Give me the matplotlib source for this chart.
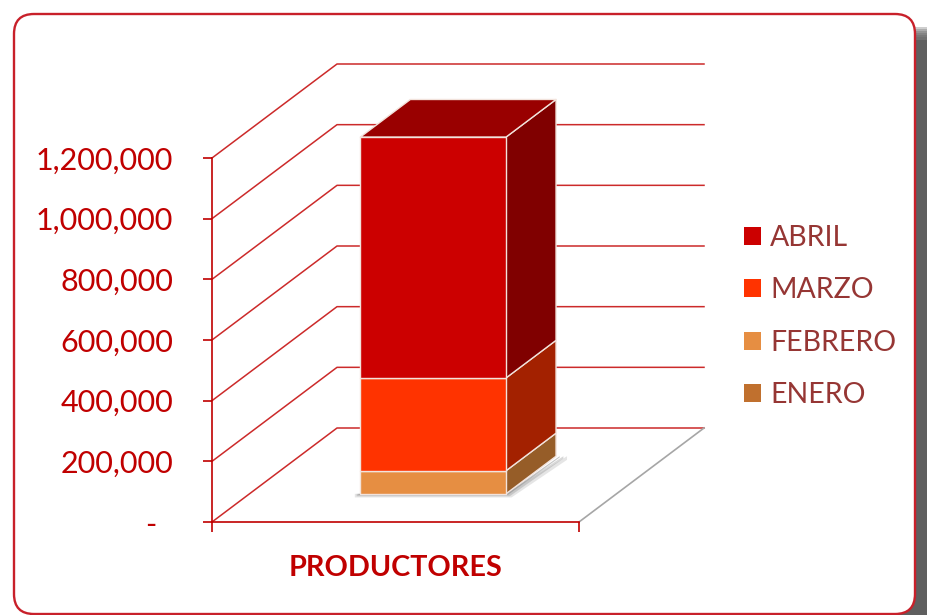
import matplotlib
matplotlib.use("Agg")
import matplotlib.pyplot as plt
from matplotlib.patches import FancyBboxPatch, Patch

plt.rcParams['font.family'] = ['Lato', 'DejaVu Sans']

# stacked values
meses = ['ENERO', 'FEBRERO', 'MARZO', 'ABRIL']
valores = [0, 76000, 306000, 794000]
categoria = 'PRODUCTORES'
y_ticks = [0, 200000, 400000, 600000, 800000, 1000000, 1200000]

frente = ['#C0702E', '#E68E42', '#FF3300', '#CC0000']
lado = ['#965D28', '#965D28', '#A32100', '#800000']
tapa = '#990000'
rojo = '#C00000'
texto_leyenda = '#963634'

W, H = 928, 615
fig = plt.figure(figsize=(W / 100, H / 100), dpi=100, facecolor='white')

# background panel in pixel coordinates
bg = fig.add_axes([0, 0, 1, 1], zorder=0)
bg.set_xlim(0, W)
bg.set_ylim(H, 0)
bg.axis('off')
for i in range(6):
    bg.add_patch(FancyBboxPatch((30, 27 + 2 * i), 930, 640, boxstyle='round,pad=0,rounding_size=18',
                                fc='#5F5F5F', ec='none', alpha=0.3))
bg.add_patch(FancyBboxPatch((30, 40), 930, 640, boxstyle='round,pad=0,rounding_size=18',
                            fc='#5F5F5F', ec='none'))
bg.add_patch(FancyBboxPatch((14, 14), 901, 600, boxstyle='round,pad=0,rounding_size=20',
                            fc='white', ec='#C8202A', lw=1.7))

# main axes: front plane of the 3D box
x0, x1, y_top, y_zero = 212, 579, 158, 522
ax = fig.add_axes([x0 / W, 1 - y_zero / H, (x1 - x0) / W, (y_zero - y_top) / H], zorder=1)
ax.patch.set_alpha(0)
ax.set_xlim(0, 1)
ax.set_ylim(0, 1200000)
for s in ['top', 'right']:
    ax.spines[s].set_visible(False)
for s in ['left', 'bottom']:
    ax.spines[s].set_color(rojo)
    ax.spines[s].set_linewidth(1.2)

DX = 125 / (x1 - x0)
DV = 94 / (y_zero - y_top) * 1200000


def oblicuo(x, v, d):
    return x + d * DX, v + d * DV


# back wall and side gridlines
for t in y_ticks:
    a = oblicuo(0, t, 0)
    b = oblicuo(0, t, 1)
    c = oblicuo(1, t, 1)
    ax.plot([a[0], b[0], c[0]], [a[1], b[1], c[1]], color='#CC2A2A', lw=1.1, clip_on=False, zorder=1)
a = oblicuo(1, 0, 0)
b = oblicuo(1, 0, 1)
ax.plot([a[0], b[0]], [a[1], b[1]], color='#A6A6A6', lw=1.2, clip_on=False, zorder=1)

# bar
bar_x = 0.302
bar_w = 0.397
d0, d1 = 0.30, 0.70


def cara(puntos, color, z=3):
    xs = [p[0] for p in puntos]
    vs = [p[1] for p in puntos]
    ax.fill(xs, vs, fc=color, ec='#F2E3DC', lw=1.0, clip_on=False, zorder=z, joinstyle='round')


# soft shadow on the floor
for i, al in enumerate([0.20, 0.30, 0.45]):
    g = (3 - i) * 0.005
    dv = 4000 * (3 - i)
    p1 = oblicuo(bar_x - g, 0, d0)
    p2 = oblicuo(bar_x + bar_w, 0, d0)
    p3 = oblicuo(bar_x + bar_w + 2 * g, 0, d1)
    ax.fill([p1[0], p2[0], p3[0], p3[0], p2[0] + g, p1[0]],
            [p1[1], p2[1], p3[1], p3[1] - dv, p2[1] - dv, p1[1] - dv],
            fc='#808080', ec='none', alpha=al, clip_on=False, zorder=2)

base = 0
for v, cf, cl in zip(valores, frente, lado):
    tope = base + v
    if v > 0:
        cara([oblicuo(bar_x + bar_w, base, d0), oblicuo(bar_x + bar_w, base, d1),
              oblicuo(bar_x + bar_w, tope, d1), oblicuo(bar_x + bar_w, tope, d0)], cl)
        cara([oblicuo(bar_x, base, d0), oblicuo(bar_x + bar_w, base, d0),
              oblicuo(bar_x + bar_w, tope, d0), oblicuo(bar_x, tope, d0)], cf, 4)
    base = tope
cara([oblicuo(bar_x, base, d0), oblicuo(bar_x + bar_w, base, d0),
      oblicuo(bar_x + bar_w, base, d1), oblicuo(bar_x, base, d1)], tapa)

# axes text
ax.set_yticks(y_ticks)
ax.set_yticklabels(['-  ' if t == 0 else f'{t:,}' for t in y_ticks], fontsize=22, color=rojo)
ax.tick_params(axis='y', color=rojo, length=6.5, width=1.2, pad=21.5)
ax.set_xticks([0, 1])
ax.set_xticklabels(['', ''])
ax.tick_params(axis='x', color=rojo, length=7, width=1.2)
ax.set_xlabel(categoria, fontsize=20.7, fontweight='bold', color=rojo, labelpad=13)

# legend
orden = list(range(len(meses)))[::-1]
handles = [Patch(fc=frente[i], ec='none') for i in orden]
leg = fig.legend(handles, [meses[i] for i in orden], loc='upper left', bbox_to_anchor=(721 / W, 1 - 202 / H),
                 frameon=False, fontsize=20.5, handlelength=0.6, handleheight=0.6, handletextpad=0.32,
                 labelspacing=0.93, borderpad=0.3)
for t in leg.get_texts():
    t.set_color(texto_leyenda)

fig.savefig('out.png', dpi=100)
